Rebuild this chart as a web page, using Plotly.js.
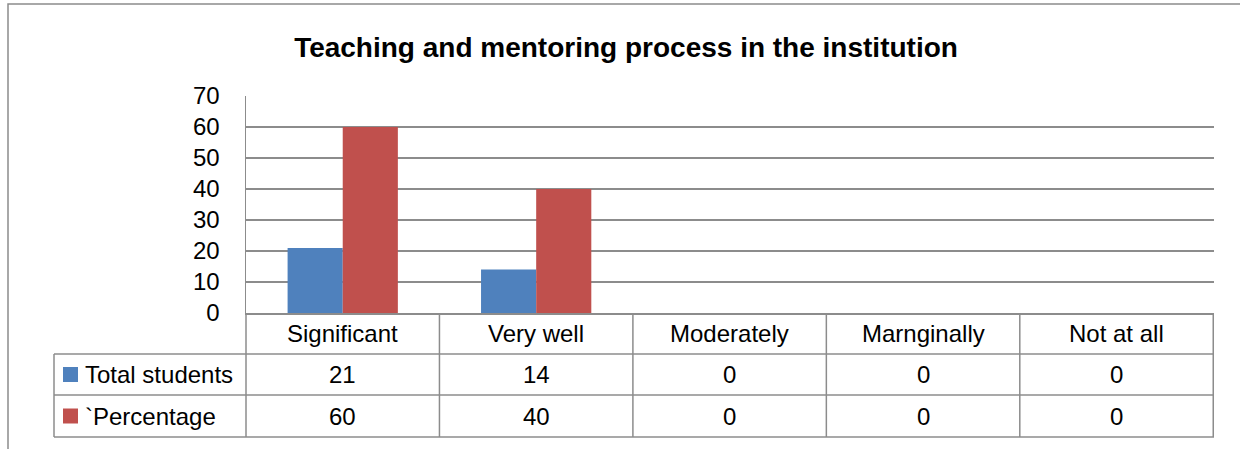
<!DOCTYPE html>
<html>
<head>
<meta charset="utf-8">
<script src="https://cdn.plot.ly/plotly-3.0.1.min.js"></script>
<style>
  html, body { margin: 0; padding: 0; background: #ffffff; }
  #chart { width: 1240px; height: 449px; }
</style>
</head>
<body>
<div id="chart"></div>
<script>
const categories = ["Significant", "Very well", "Moderately", "Marnginally", "Not at all"];
const seriesNames = ["Total students", "`Percentage"];
const totalStudents = [21, 14, 0, 0, 0];
const percentage = [60, 40, 0, 0, 0];
const seriesColors = ["#4F81BD", "#C0504D"];
const chartTitle = "Teaching and mentoring process in the institution";

const FONT = "Liberation Sans, Arial, sans-serif";
const GRID = "#8c8c8c";
const seriesValues = [totalStudents, percentage];

// geometry (px -> paper)
const L = 246, R = 1214, T = 96, B = 313;
const W = R - L, H = B - T;
const px = x => (x - L) / W;
const py = y => (B - y) / H;

const traces = seriesValues.map((vals, i) => ({
  type: "bar",
  x: categories,
  y: vals,
  name: seriesNames[i],
  marker: { color: seriesColors[i], line: { width: 0 } },
  hoverinfo: "skip"
}));

const shapes = [];
const annotations = [];
const line = { color: GRID, width: 1.5 };

// outer chart frame
shapes.push({ type: "rect", xref: "paper", yref: "paper",
  x0: px(8), x1: px(1260), y0: py(470), y1: py(4), line: { color: GRID, width: 1.5 }, layer: "below" });

// table horizontal lines
[354, 395, 437].forEach(y => shapes.push({ type: "line", xref: "paper", yref: "paper",
  x0: px(54), x1: 1, y0: py(y), y1: py(y), line }));
// left table edge
shapes.push({ type: "line", xref: "paper", yref: "paper", x0: px(54), x1: px(54), y0: py(354), y1: py(437), line });
// y axis extension down through table
shapes.push({ type: "line", xref: "paper", yref: "paper", x0: 0, x1: 0, y0: py(313), y1: py(437), line });
// column separators between categories
for (let i = 0; i < categories.length; i++) {
  shapes.push({ type: "line", xref: "x", yref: "paper", x0: i + 0.5, x1: i + 0.5, y0: py(313), y1: py(437), line });
}

const FS = 24;
// category header row
const rowHeader = py(333.5);
const rowY = [py(374.5), py(416)];
categories.forEach((c, i) => {
  annotations.push({ xref: "x", yref: "paper", x: c, y: rowHeader, text: c, showarrow: false,
    xanchor: "center", yanchor: "middle", font: { family: FONT, size: FS, color: "#000" } });
  seriesValues.forEach((vals, s) => {
    annotations.push({ xref: "x", yref: "paper", x: c, y: rowY[s], text: String(vals[i]), showarrow: false,
      xanchor: "center", yanchor: "middle", font: { family: FONT, size: FS, color: "#000" } });
  });
});
// legend column
seriesNames.forEach((n, s) => {
  const cy = [374.5, 416][s];
  shapes.push({ type: "rect", xref: "paper", yref: "paper",
    x0: px(63), x1: px(78), y0: py(cy + 7.5), y1: py(cy - 7.5),
    fillcolor: seriesColors[s], line: { width: 0 } });
  annotations.push({ xref: "paper", yref: "paper", x: px(83), y: py(cy), text: n, showarrow: false,
    xanchor: "left", yanchor: "middle", font: { family: FONT, size: FS, color: "#000" } });
});

const layout = {
  width: 1240, height: 449,
  margin: { l: L, r: 1240 - R, t: T, b: 449 - B, pad: 0 },
  paper_bgcolor: "#ffffff", plot_bgcolor: "#ffffff",
  showlegend: false,
  barmode: "group", bargap: 0.43, bargroupgap: 0,
  title: { text: "<b>" + chartTitle + "</b>", xref: "container", yref: "container",
    x: 626 / 1240, xanchor: "center", y: 1 - 47 / 449, yanchor: "middle",
    font: { family: FONT, size: 28, color: "#000" } },
  xaxis: { type: "category", showticklabels: false, ticks: "", showgrid: false,
    showline: true, linecolor: GRID, linewidth: 1.5, zeroline: false, fixedrange: true },
  yaxis: { range: [0, 70], dtick: 10, tick0: 0, showgrid: true, gridcolor: GRID, gridwidth: 1.5,
    showline: true, linecolor: GRID, linewidth: 1.5, zeroline: false,
    ticks: "outside", ticklen: 20, tickcolor: "rgba(0,0,0,0)",
    tickfont: { family: FONT, size: FS, color: "#000" }, fixedrange: true },
  shapes, annotations
};

Plotly.newPlot("chart", traces, layout, { displayModeBar: false, staticPlot: true });
</script>
</body>
</html>
